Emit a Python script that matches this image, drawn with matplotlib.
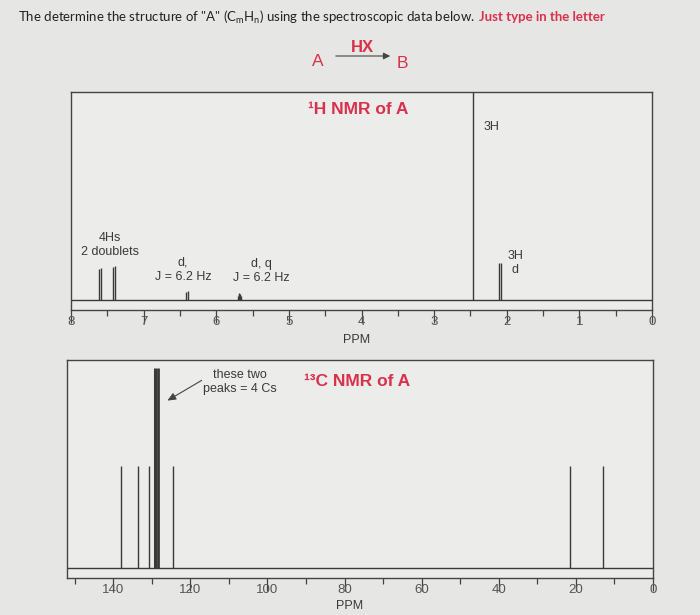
import matplotlib
matplotlib.use("Agg")
import matplotlib.pyplot as plt
from matplotlib.ticker import MultipleLocator

W, H = 700, 615

# 1H NMR of A: line positions (ppm) and heights (fraction of tallest)
h_ppm = [7.61, 7.59, 7.42, 7.40, 6.41, 6.39,
         5.70, 5.69, 5.68, 5.67, 5.66, 2.46, 2.10, 2.08]
h_int = [0.15, 0.155, 0.16, 0.165, 0.04, 0.045,
         0.02, 0.03, 0.035, 0.03, 0.02, 1.0, 0.18, 0.18]

# 13C NMR of A: peak positions (ppm) and heights
c_ppm = [138.0, 133.7, 130.8, 129.1, 128.4, 124.6, 21.6, 12.9]
c_int = [0.49, 0.49, 0.49, 0.96, 0.96, 0.49, 0.49, 0.49]
c_lw = [1.0, 1.0, 1.0, 2.2, 2.0, 1.0, 1.0, 1.0]

red = "#d9304c"
ink = "#3a3a3a"
tick_col = "#555555"
bg = "#e6e6e4"
panel_bg = "#ececeb"


def fx(x):
    return x / W


def fy(y):
    return 1 - y / H


def panel(x0, x1, ytop, ybot):
    return fig.add_axes([fx(x0), fy(ybot), fx(x1) - fx(x0), fy(ytop) - fy(ybot)])


fig = plt.figure(figsize=(W / 100, H / 100), dpi=100, facecolor=bg)

# ---------- title line ----------
r = fig.canvas.get_renderer()
t1 = fig.text(fx(18), fy(17),
              'The determine the structure of "A" (C$_\\mathregular{m}$H$_\\mathregular{n}$) '
              'using the spectroscopic data below.',
              family="Lato", fontsize=9.5, color="#222222", va="center")
ext = t1.get_window_extent(renderer=r)
fig.text(ext.x1 / W + fx(4), fy(17), "Just type in the letter", family="Lato",
         fontsize=9.5, color=red, fontweight="bold", va="center")

# reaction A --HX--> B
fig.text(fx(318), fy(62), "A", family="Liberation Sans", fontsize=12.5,
         color=red, ha="center", va="center")
fig.text(fx(402), fy(63), "B", family="Liberation Sans", fontsize=12.5,
         color=red, ha="center", va="center")
fig.text(fx(362), fy(47), "HX", family="Liberation Sans", fontsize=12,
         color=red, fontweight="bold", ha="center", va="center")
fig.add_artist(matplotlib.patches.FancyArrowPatch(
    (fx(333), fy(56)), (fx(393), fy(56)), transform=fig.transFigure,
    arrowstyle="-|>,head_length=4,head_width=2", color="#444444", lw=0.8))


def style_axis(ax):
    ax.set_facecolor(panel_bg)
    for s in ax.spines.values():
        s.set_color("#444444")
        s.set_linewidth(1.0)
    ax.tick_params(axis="x", which="major", direction="out", length=9, width=0.9,
                   color="#444444", labelsize=9.5, labelcolor=tick_col, pad=-5)
    ax.tick_params(axis="x", which="minor", direction="out", length=4, width=0.9,
                   color="#444444")
    ax.tick_params(axis="y", left=False, labelleft=False)
    for lab in ax.get_xticklabels():
        lab.set_family("Liberation Sans")


# ---------- 1H NMR panel ----------
ax1 = panel(71, 652, 92, 310)
ax1.set_xlim(8, 0)
ax1.set_ylim(-0.048, 1.0)
ax1.axhline(0, color=ink, lw=1.0)
ax1.vlines(h_ppm, 0, h_int, color=ink, lw=1.0)
ax1.xaxis.set_major_locator(MultipleLocator(1))
ax1.xaxis.set_minor_locator(MultipleLocator(0.5))
style_axis(ax1)

fig.text(fx(358), fy(110), "¹H NMR of A", family="Liberation Sans",
         fontsize=12.5, color=red, fontweight="bold", ha="center", va="center")
lab_kw = dict(family="Liberation Sans", fontsize=9, color=ink, ha="center",
              va="center", linespacing=1.25)
fig.text(fx(110), fy(245), "4Hs\n2 doublets", **lab_kw)
fig.text(fx(183), fy(270), "d,\nJ = 6.2 Hz", **lab_kw)
fig.text(fx(261), fy(271), "d, q\nJ = 6.2 Hz", **lab_kw)
fig.text(fx(492), fy(127), "3H", **lab_kw)
fig.text(fx(515), fy(263), "3H\nd", **lab_kw)
fig.text(fx(357), fy(340), "PPM", **lab_kw)

# ---------- 13C NMR panel ----------
ax2 = panel(67, 653, 360, 578)
ax2.set_xlim(152, 0)
ax2.set_ylim(-0.048, 1.0)
ax2.axhline(0, color=ink, lw=1.0)
ax2.vlines(c_ppm, 0, c_int, color=ink, lw=c_lw)
ax2.xaxis.set_major_locator(MultipleLocator(20))
ax2.xaxis.set_minor_locator(MultipleLocator(10))
style_axis(ax2)

fig.text(fx(357), fy(381), "¹³C NMR of A", family="Liberation Sans",
         fontsize=12.5, color=red, fontweight="bold", ha="center", va="center")
fig.text(fx(240), fy(382), "these two\npeaks = 4 Cs", **lab_kw)
fig.add_artist(matplotlib.patches.FancyArrowPatch(
    (fx(204), fy(379)), (fx(165), fy(402)), transform=fig.transFigure,
    arrowstyle="-|>,head_length=5,head_width=2.2", color="#444444", lw=0.8))
fig.text(fx(350), fy(606), "PPM", **lab_kw)

fig.savefig("out.png", dpi=100, facecolor=bg)
